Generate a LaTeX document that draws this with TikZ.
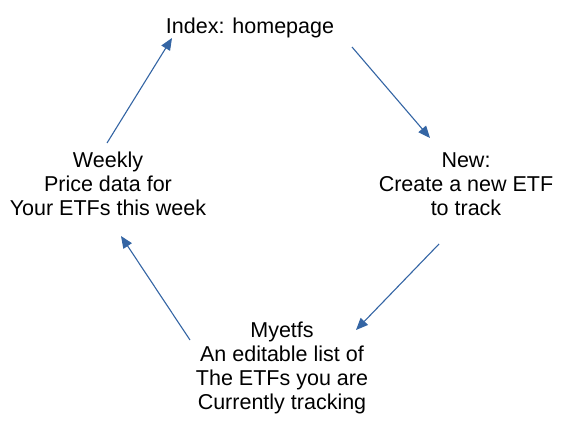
\documentclass[tikz,border=0pt]{standalone}
\usepackage{fontspec}
\setmainfont{Liberation Sans}
\usepackage{tikz}
\usetikzlibrary{arrows.meta}
\definecolor{arrowblue}{HTML}{3465A4}

\begin{document}
\begin{tikzpicture}[x=1pt,y=-1pt,
    page/.style={align=center,anchor=base,inner sep=0pt,font=\fontsize{21.5}{24}\selectfont},
    flow/.style={line width=1.1pt,arrowblue,-{Triangle[length=12pt,width=10pt]}}]
    \useasboundingbox (0,0) rectangle (567,442);

    \node[page] (index) at (250,33) {Index: homepage};
    \node[page] (new) at (466,215) {New:\\Create a new ETF\\to track};
    \node[page] (myetfs) at (282,409) {Myetfs\\An editable list of\\The ETFs you are\\Currently tracking};
    \node[page] (weekly) at (108,215) {Weekly\\Price data for\\Your ETFs this week};

    \coordinate (indexout) at (352,47);
    \coordinate (newin) at (430,138);
    \coordinate (newout) at (439,244);
    \coordinate (myetfsin) at (356,330);
    \coordinate (myetfsout) at (190,340);
    \coordinate (weeklyin) at (121,236);
    \coordinate (weeklyout) at (107,143);
    \coordinate (indexin) at (172,38);

    \draw[flow](indexout)--(newin);
    \draw[flow](newout)--(myetfsin);
    \draw[flow](myetfsout)--(weeklyin);
    \draw[flow](weeklyout)--(indexin);
  \end{tikzpicture}
\end{document}
